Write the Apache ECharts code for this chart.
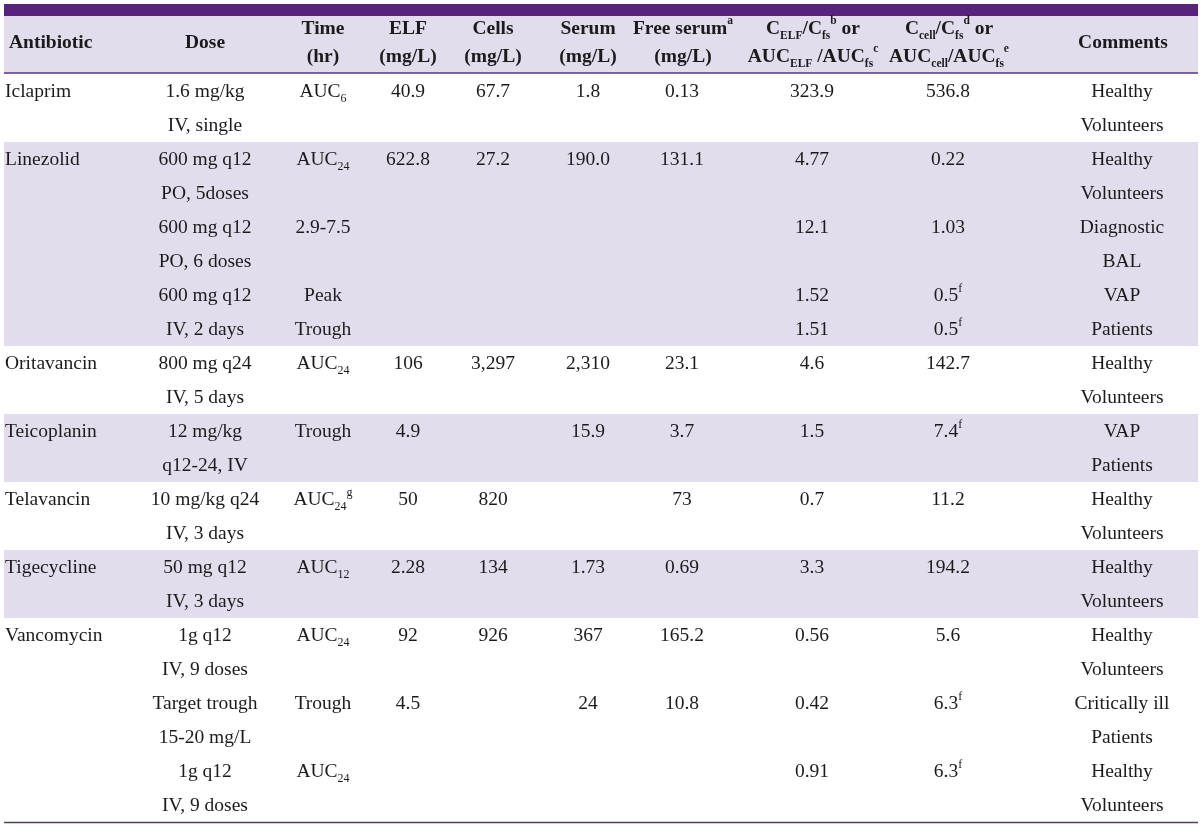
<!DOCTYPE html>
<html><head><meta charset="utf-8">
<script src="https://cdn.jsdelivr.net/npm/echarts@6/dist/echarts.min.js"></script>
<style>html,body{margin:0;padding:0;background:#fff}#c{width:1200px;height:828px}</style>
</head><body><div id="c"></div>
<script>
// ---------------- data ----------------
const headers = [
  'Antibiotic', 'Dose', 'Time\n(hr)', 'ELF\n(mg/L)', 'Cells\n(mg/L)', 'Serum\n(mg/L)',
  'Free serum{sup|a}\n(mg/L)',
  'C{sub|ELF}/C{sub|fs}{sup|b} or\nAUC{sub|ELF} /AUC{sub|fs}{sup|c}',
  'C{sub|cell}/C{sub|fs}{sup|d} or\nAUC{sub|cell}/AUC{sub|fs}{sup|e}',
  'Comments'
];
const antibiotic = ['Iclaprim', 'Linezolid', '', '', 'Oritavancin', 'Teicoplanin', 'Telavancin', 'Tigecycline', 'Vancomycin', '', ''];
const dose = ['1.6 mg/kg\nIV, single', '600 mg q12\nPO, 5doses', '600 mg q12\nPO, 6 doses', '600 mg q12\nIV, 2 days',
  '800 mg q24\nIV, 5 days', '12 mg/kg\nq12-24, IV', '10 mg/kg q24\nIV, 3 days', '50 mg q12\nIV, 3 days',
  '1g q12\nIV, 9 doses', 'Target trough\n15-20 mg/L', '1g q12\nIV, 9 doses'];
const timeHr = ['AUC{sub|6}', 'AUC{sub|24}', '2.9-7.5', 'Peak\nTrough', 'AUC{sub|24}', 'Trough', 'AUC{sub|24}{sup|g}',
  'AUC{sub|12}', 'AUC{sub|24}', 'Trough', 'AUC{sub|24}'];
const elf = ['40.9', '622.8', '', '', '106', '4.9', '50', '2.28', '92', '4.5', ''];
const cells = ['67.7', '27.2', '', '', '3,297', '', '820', '134', '926', '', ''];
const serum = ['1.8', '190.0', '', '', '2,310', '15.9', '', '1.73', '367', '24', ''];
const freeSerum = ['0.13', '131.1', '', '', '23.1', '3.7', '73', '0.69', '165.2', '10.8', ''];
const ratioElf = ['323.9', '4.77', '12.1', '1.52\n1.51', '4.6', '1.5', '0.7', '3.3', '0.56', '0.42', '0.91'];
const ratioCell = ['536.8', '0.22', '1.03', '0.5{sup|f}\n0.5{sup|f}', '142.7', '7.4{sup|f}', '11.2', '194.2', '5.6', '6.3{sup|f}', '6.3{sup|f}'];
const comments = ['Healthy\nVolunteers', 'Healthy\nVolunteers', 'Diagnostic\nBAL', 'VAP\nPatients', 'Healthy\nVolunteers',
  'VAP\nPatients', 'Healthy\nVolunteers', 'Healthy\nVolunteers', 'Healthy\nVolunteers', 'Critically ill\nPatients', 'Healthy\nVolunteers'];
const regimensPerDrug = [1, 3, 1, 1, 1, 1, 3];
const linesPerRegimen = 2;

// ---------------- layout / style ----------------
const columns = [antibiotic, dose, timeHr, elf, cells, serum, freeSerum, ratioElf, ratioCell, comments];
const colX = [5, 205, 323, 408, 493, 588, 682, 812, 948, 1122];
const headX = [9, 205, 323, 408, 493, 588, 683, 813, 949, 1123];
const TABLE_L = 4, TABLE_R = 1198;
const LINE_H = 34, HEAD_LH = 28;
const FAM = '"Liberation Serif", "Times New Roman", serif';
const FONT = '19.5px ' + FAM;
const HFONT = 'bold 19.5px ' + FAM;
const INK = '#1E1A1C';
const DARK = '#58237A';
const LIGHT = '#E2DCEC';
const RICH = {
  sub: { font: '12px ' + FAM, fill: INK, verticalAlign: 'bottom', height: 20 },
  sup: { font: '12px ' + FAM, fill: INK, verticalAlign: 'top', height: 20 }
};
const HRICH = {
  sub: { font: 'bold 11.5px ' + FAM, fill: INK, verticalAlign: 'bottom', height: 14 },
  sup: { font: 'bold 11.5px ' + FAM, fill: INK, verticalAlign: 'top', height: 12 }
};

const totalLines = dose.length * linesPerRegimen;
const bandData = [];
let r = 0;
regimensPerDrug.forEach((n, g) => {
  bandData.push([r * linesPerRegimen, (r + n) * linesPerRegimen, g % 2]);
  r += n;
});
const cellData = dose.map((_, i) => [i, i * linesPerRegimen]);

const chart = echarts.init(document.getElementById('c'), null, { renderer: 'canvas' });
chart.setOption({
  animation: false,
  backgroundColor: '#ffffff',
  grid: { left: 0, right: 0, top: 74, bottom: 6 },
  xAxis: { type: 'value', min: 0, max: 1200, show: false },
  yAxis: { type: 'value', min: 0, max: totalLines, inverse: true, show: false },
  series: [
    {
      type: 'custom', name: 'bands', z: 1, silent: true, clip: false,
      data: bandData,
      renderItem(params, api) {
        if (!api.value(2)) return null;
        const p0 = api.coord([TABLE_L, api.value(0)]);
        const p1 = api.coord([TABLE_R, api.value(1)]);
        return { type: 'rect', shape: { x: p0[0], y: p0[1], width: p1[0] - p0[0], height: p1[1] - p0[1] }, style: { fill: LIGHT } };
      }
    },
    {
      type: 'custom', name: 'header', z: 2, silent: true, clip: false,
      data: [[0]],
      renderItem(params, api) {
        const p0 = api.coord([TABLE_L, 0]);
        const p1 = api.coord([TABLE_R, totalLines]);
        const y0 = p0[1];
        const w = p1[0] - p0[0];
        const kids = [
          { type: 'rect', shape: { x: p0[0], y: y0 - 70, width: w, height: 12 }, style: { fill: DARK } },
          { type: 'rect', shape: { x: p0[0], y: y0 - 58, width: w, height: 57 }, style: { fill: LIGHT } },
          { type: 'line', shape: { x1: p0[0], y1: y0 - 1, x2: p1[0], y2: y0 - 1 }, style: { stroke: '#5B3580', lineWidth: 1.5 } },
          { type: 'line', shape: { x1: p0[0], y1: p1[1] + 0.5, x2: p1[0], y2: p1[1] + 0.5 }, style: { stroke: '#524060', lineWidth: 1.5 } }
        ];
        headers.forEach((h, c) => {
          kids.push({
            type: 'text',
            style: {
              text: h, x: api.coord([headX[c], 0])[0], y: y0 - 31,
              align: c === 0 ? 'left' : 'center', verticalAlign: 'middle',
              font: HFONT, fill: INK, lineHeight: HEAD_LH, rich: HRICH
            }
          });
        });
        return { type: 'group', children: kids };
      }
    },
    {
      type: 'custom', name: 'cells', z: 3, silent: true, clip: false,
      data: cellData,
      renderItem(params, api) {
        const i = api.value(0);
        const line = api.value(1);
        const top = api.coord([0, line])[1];
        const kids = columns.map((col, c) => ({
          type: 'text',
          style: {
            text: col[i], x: api.coord([colX[c], line])[0], y: top + 0.5,
            align: c === 0 ? 'left' : 'center', verticalAlign: 'top',
            font: FONT, fill: INK, lineHeight: LINE_H, rich: RICH
          }
        }));
        return { type: 'group', children: kids };
      }
    }
  ]
});
</script>
</body></html>
